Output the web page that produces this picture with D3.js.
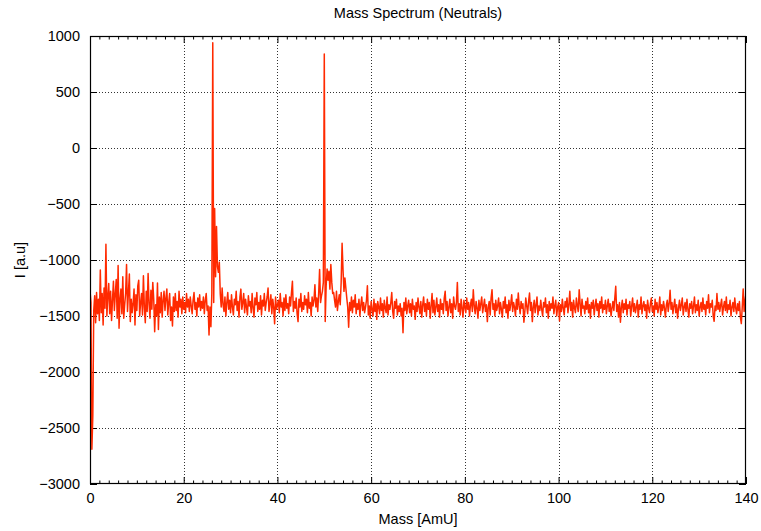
<!DOCTYPE html>
<html>
<head>
<meta charset="utf-8">
<script src="https://cdn.jsdelivr.net/npm/d3@7"></script>
<style>
body { margin: 0; background: #fff; }
text { font-family: "Liberation Sans", Arial, Helvetica, sans-serif; fill: #000; }
</style>
</head>
<body>
<div id="chart"></div>
<script>
// Mass spectrum, one sample every 0.2 AmU, starting at 0
var massStep = 0.2;
var intensity = [
  -1270, -1380, -2690, -2390, -1450, -1320, -1560, -1290, -1480, -1350, -1540,
  -1090, -1470, -1300, -1580, -1250, -1430, -860, -1500, -1330, -1210,
  -1480, -1280, -1540, -1360, -1190, -1450, -1300, -1175, -1520, -1050,
  -1610, -1350, -1260, -1480, -1150, -1520, -1400, -1300, -1040, -1460,
  -1290, -1125, -1550, -1350, -1470, -1390, -1260, -1580, -1310, -1450,
  -1230, -1180, -1500, -1380, -1300, -1490, -1140, -1420, -1560, -1280,
  -1460, -1120, -1390, -1520, -1270, -1440, -1200, -1350, -1640, -1400,
  -1500, -1205, -1620, -1330, -1470, -1290, -1510, -1360, -1280, -1450,
  -1340, -1260, -1490, -1380, -1300, -1540, -1420, -1590, -1330, -1460,
  -1300, -1450, -1370, -1510, -1280, -1420, -1350, -1480, -1330, -1440,
  -1380, -1470, -1300, -1420, -1350, -1460, -1330, -1410, -1480, -1360,
  -1290, -1440, -1380, -1500, -1340, -1420, -1310, -1450, -1370, -1430,
  -1330, -1480, -1360, -1300, -1450, -1410, -1670, -1420, -1595, -1300,
  940, -1380, -540, -1150, -700, -1060, -1110, -1020, -1300, -1420,
  -1250, -1400, -1460, -1330, -1500, -1380, -1290, -1440, -1360, -1470,
  -1310, -1420, -1490, -1350, -1400, -1280, -1450, -1370, -1510, -1330,
  -1260, -1440, -1380, -1300, -1470, -1350, -1420, -1490, -1320, -1410,
  -1370, -1470, -1300, -1430, -1510, -1340, -1400, -1290, -1460, -1380,
  -1440, -1320, -1490, -1360, -1410, -1300, -1450, -1380, -1330, -1250,
  -1460, -1390, -1310, -1480, -1350, -1420, -1570, -1330, -1440, -1400,
  -1360, -1470, -1300, -1420, -1380, -1500, -1340, -1450, -1310, -1430,
  -1390, -1480, -1330, -1410, -1290, -1190, -1460, -1370, -1430, -1340,
  -1480, -1550, -1350, -1420, -1300, -1460, -1380, -1440, -1320, -1400,
  -1350, -1470, -1290, -1430, -1380, -1500, -1330, -1410, -1360, -1220,
  -1420, -1340, -1460, -1300, -1085, -1380, -1320, -1280, -1200, 840,
  -1550, -1230, -1080, -1180, -1100, -1260, -1040, -1200, -1300, -1290,
  -1360, -1420, -1280, -1450, -1370, -1310, -1400, -1200, -850, -1090,
  -1280, -1160, -1250, -1340, -1420, -1600, -1380, -1450, -1330, -1470,
  -1360, -1420, -1310, -1480, -1390, -1440, -1350, -1500, -1400, -1330,
  -1450, -1380, -1470, -1420, -1360, -1230, -1490, -1410, -1520, -1370,
  -1440, -1500, -1350, -1460, -1390, -1530, -1370, -1420, -1480, -1340,
  -1450, -1390, -1510, -1360, -1430, -1470, -1330, -1490, -1400, -1440,
  -1380, -1290, -1460, -1520, -1370, -1430, -1350, -1490, -1410, -1460,
  -1390, -1500, -1430, -1650, -1380, -1450, -1340, -1480, -1410, -1360,
  -1470, -1390, -1500, -1350, -1440, -1410, -1530, -1380, -1460, -1340,
  -1420, -1480, -1370, -1510, -1400, -1330, -1460, -1390, -1500, -1350,
  -1440, -1380, -1520, -1410, -1300, -1470, -1360, -1490, -1420, -1340,
  -1460, -1400, -1510, -1350, -1440, -1390, -1480, -1340, -1280, -1450,
  -1370, -1500, -1420, -1350, -1470, -1390, -1520, -1330, -1410, -1440,
  -1380, -1200, -1460, -1390, -1490, -1350, -1430, -1510, -1360, -1420,
  -1470, -1340, -1440, -1380, -1500, -1400, -1350, -1460, -1265, -1410,
  -1480, -1370, -1430, -1520, -1360, -1450, -1390, -1330, -1470, -1410,
  -1350, -1460, -1400, -1550, -1420, -1370, -1490, -1340, -1265, -1440,
  -1390, -1500, -1360, -1450, -1410, -1340, -1480, -1380, -1440, -1510,
  -1370, -1430, -1330, -1470, -1400, -1520, -1360, -1450, -1390, -1310,
  -1460, -1380, -1420, -1500, -1350, -1440, -1295, -1410, -1480, -1370,
  -1430, -1390, -1556, -1460, -1340, -1410, -1480, -1370, -1295, -1450,
  -1380, -1550, -1420, -1360, -1470, -1400, -1330, -1490, -1410, -1450,
  -1360, -1440, -1500, -1380, -1420, -1340, -1470, -1400, -1520, -1370,
  -1450, -1390, -1430, -1330, -1480, -1410, -1360, -1500, -1420, -1380,
  -1545, -1400, -1460, -1350, -1430, -1490, -1370, -1420, -1340, -1470,
  -1400, -1280, -1450, -1380, -1510, -1360, -1430, -1470, -1340, -1410,
  -1460, -1265, -1390, -1500, -1350, -1430, -1410, -1480, -1370, -1440,
  -1340, -1470, -1400, -1520, -1380, -1430, -1360, -1490, -1410, -1350,
  -1450, -1390, -1510, -1370, -1430, -1330, -1470, -1400, -1440, -1360,
  -1480, -1410, -1350, -1460, -1390, -1500, -1430, -1370, -1450, -1340,
  -1235, -1460, -1400, -1510, -1380, -1556, -1420, -1360, -1470, -1390,
  -1440, -1350, -1490, -1400, -1430, -1370, -1500, -1410, -1340, -1460,
  -1390, -1470, -1420, -1360, -1510, -1400, -1440, -1330, -1480, -1410,
  -1370, -1450, -1400, -1520, -1360, -1430, -1470, -1390, -1340, -1460,
  -1410, -1500, -1350, -1440, -1380, -1470, -1420, -1330, -1490, -1400,
  -1450, -1370, -1430, -1510, -1400, -1360, -1460, -1390, -1270, -1440,
  -1380, -1480, -1410, -1350, -1470, -1400, -1520, -1430, -1360, -1450,
  -1400, -1340, -1490, -1420, -1380, -1460, -1350, -1440, -1510, -1390,
  -1430, -1370, -1480, -1410, -1330, -1470, -1400, -1450, -1360, -1500,
  -1420, -1380, -1460, -1340, -1440, -1400, -1490, -1370, -1430, -1310,
  -1470, -1390, -1420, -1360, -1500, -1547, -1410, -1450, -1300, -1440,
  -1380, -1460, -1400, -1350, -1490, -1420, -1370, -1450, -1330, -1470,
  -1400, -1440, -1360, -1500, -1420, -1380, -1460, -1340, -1430, -1480,
  -1390, -1450, -1370, -1510, -1568, -1420, -1258, -1460, -1360, -1300
];

var xTicks = [0, 20, 40, 60, 80, 100, 120, 140];
var xMinorTicks = d3.range(0, 141, 2).filter(function(d) { return d % 20 !== 0; });
var yTicks = [-3000, -2500, -2000, -1500, -1000, -500, 0, 500, 1000];

var chartTitle = "Mass Spectrum (Neutrals)";
var xTitle = "Mass [AmU]";
var yTitle = "I [a.u]";

var width = 761;
var height = 531;
var plotLeft = 90, plotRight = 746, plotTop = 36, plotBottom = 484;
var fontSize = "14.5px";

var svg = d3.select("#chart").append("svg")
  .attr("width", width)
  .attr("height", height);

var x = d3.scaleLinear().domain([0, 140]).range([plotLeft, plotRight]);
var y = d3.scaleLinear().domain([-3000, 1000]).range([plotBottom, plotTop]);

// grid, dotted
var grid = svg.append("g").attr("stroke", "#333").attr("stroke-width", 1).attr("stroke-dasharray", "1,2");
grid.selectAll(".gx").data(xTicks.slice(1, -1)).enter().append("line")
  .attr("x1", function(d) { return Math.round(x(d)) + 0.5; })
  .attr("x2", function(d) { return Math.round(x(d)) + 0.5; })
  .attr("y1", plotTop).attr("y2", plotBottom);
grid.selectAll(".gy").data(yTicks.slice(1, -1)).enter().append("line")
  .attr("y1", function(d) { return Math.round(y(d)) + 0.5; })
  .attr("y2", function(d) { return Math.round(y(d)) + 0.5; })
  .attr("x1", plotLeft).attr("x2", plotRight);

// axes with inward ticks
function styleAxis(g) {
  g.select(".domain").remove();
  g.selectAll("line").attr("stroke", "#000");
  g.selectAll("text").style("font-size", fontSize).style("font-family", "'Liberation Sans', Arial, sans-serif");
}

svg.append("g").attr("transform", "translate(0," + plotBottom + ")")
  .call(d3.axisBottom(x).tickValues(xTicks).tickSizeInner(-7).tickSizeOuter(0).tickPadding(9).tickFormat(d3.format("d")))
  .call(styleAxis);
svg.append("g").attr("transform", "translate(0," + plotBottom + ")")
  .call(d3.axisBottom(x).tickValues(xMinorTicks).tickSizeInner(-3.5).tickSizeOuter(0).tickFormat(""))
  .call(styleAxis);
svg.append("g").attr("transform", "translate(0," + plotTop + ")")
  .call(d3.axisTop(x).tickValues(xTicks).tickSizeInner(-7).tickSizeOuter(0).tickFormat(""))
  .call(styleAxis);
svg.append("g").attr("transform", "translate(0," + plotTop + ")")
  .call(d3.axisTop(x).tickValues(xMinorTicks).tickSizeInner(-3.5).tickSizeOuter(0).tickFormat(""))
  .call(styleAxis);
svg.append("g").attr("transform", "translate(" + plotLeft + ",0)")
  .call(d3.axisLeft(y).tickValues(yTicks).tickSizeInner(-7).tickSizeOuter(0).tickPadding(10).tickFormat(d3.format("d")))
  .call(styleAxis);
svg.append("g").attr("transform", "translate(" + plotRight + ",0)")
  .call(d3.axisRight(y).tickValues(yTicks).tickSizeInner(-7).tickSizeOuter(0).tickFormat(""))
  .call(styleAxis);

// the spectrum
svg.append("clipPath").attr("id", "plotclip").append("rect")
  .attr("x", plotLeft).attr("y", plotTop).attr("width", plotRight - plotLeft).attr("height", plotBottom - plotTop);

var line = d3.line()
  .x(function(d, i) { return x(i * massStep); })
  .y(function(d) { return y(d); });

svg.append("path")
  .datum(intensity)
  .attr("clip-path", "url(#plotclip)")
  .attr("fill", "none")
  .attr("stroke", "#ff2a00")
  .attr("stroke-width", 1.5)
  .attr("stroke-linejoin", "round")
  .attr("d", line);

// frame
svg.append("rect")
  .attr("x", plotLeft + 0.5).attr("y", plotTop + 0.5)
  .attr("width", plotRight - plotLeft - 1).attr("height", plotBottom - plotTop - 1)
  .attr("fill", "none").attr("stroke", "#000").attr("stroke-width", 1.2);

// titles
svg.append("text").attr("x", (plotLeft + plotRight) / 2).attr("y", 18)
  .attr("text-anchor", "middle").style("font-size", fontSize).text(chartTitle);
svg.append("text").attr("x", (plotLeft + plotRight) / 2).attr("y", 524)
  .attr("text-anchor", "middle").style("font-size", fontSize).text(xTitle);
svg.append("text").attr("transform", "translate(25," + ((plotTop + plotBottom) / 2) + ") rotate(-90)")
  .attr("text-anchor", "middle").style("font-size", fontSize).text(yTitle);
</script>
</body>
</html>
